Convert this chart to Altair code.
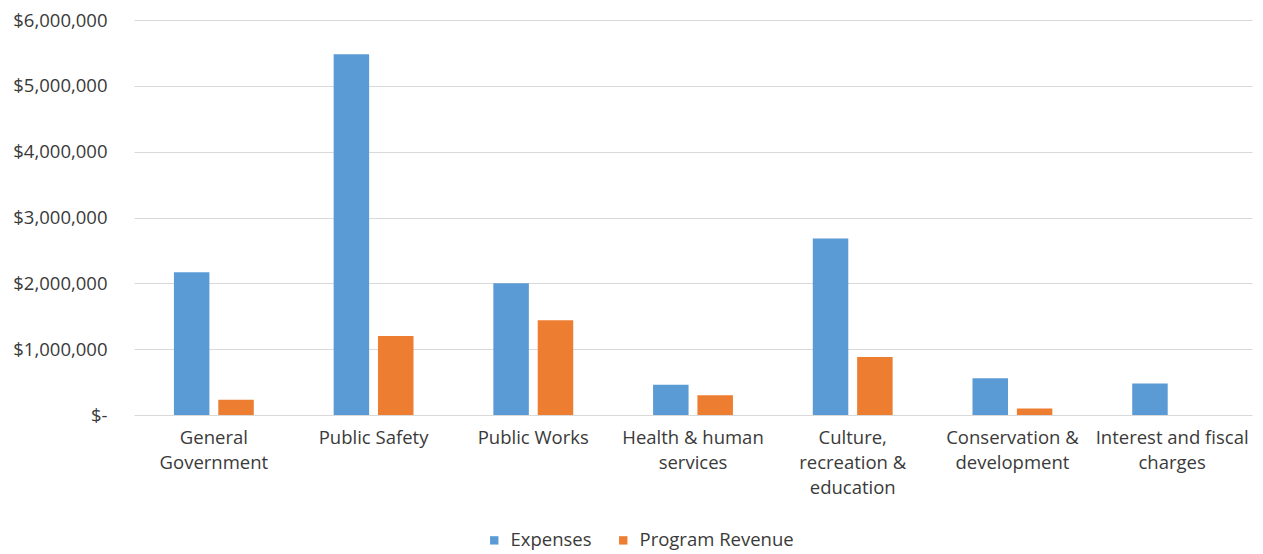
import altair as alt
import pandas as pd

categories = [
    "General\nGovernment",
    "Public Safety",
    "Public Works",
    "Health & human\nservices",
    "Culture,\nrecreation &\neducation",
    "Conservation &\ndevelopment",
    "Interest and fiscal\ncharges",
]
expenses = [2170000, 5480000, 2000000, 460000, 2680000, 560000, 480000]
program_revenue = [230000, 1200000, 1440000, 300000, 880000, 100000, 0]
series = ["Expenses", "Program Revenue"]
colors = ["#5B9BD5", "#ED7D31"]

rows = []
for c, e, r in zip(categories, expenses, program_revenue):
    rows.append({"category": c, "series": series[0], "value": e})
    rows.append({"category": c, "series": series[1], "value": r})
df = pd.DataFrame(rows)

FONT = "Open Sans"
TEXT = "#3a3a3a"
FS = 18.5

chart = (
    alt.Chart(df)
    .mark_bar()
    .encode(
        x=alt.X(
            "category:N",
            sort=categories,
            scale=alt.Scale(paddingInner=0.5, paddingOuter=0.25),
            axis=alt.Axis(
                title=None,
                labelAngle=0,
                labelExpr="split(datum.label, '\\n')",
                labelFontSize=FS,
                labelFont=FONT,
                labelColor=TEXT,
                labelLineHeight=25,
                labelPadding=13,
                labelBaseline="top",
                ticks=False,
                domain=False,
                grid=False,
                labelLimit=0,
            ),
        ),
        xOffset=alt.XOffset(
            "series:N",
            sort=series,
            scale=alt.Scale(paddingInner=0.2, paddingOuter=0),
        ),
        y=alt.Y(
            "value:Q",
            scale=alt.Scale(domain=[0, 6000000], nice=False),
            axis=alt.Axis(
                title=None,
                values=[0, 1000000, 2000000, 3000000, 4000000, 5000000, 6000000],
                labelExpr="datum.value == 0 ? '$-' : '$' + format(datum.value, ',')",
                labelFontSize=FS,
                labelFont=FONT,
                labelColor=TEXT,
                labelPadding=27,
                ticks=False,
                domain=False,
                gridColor="#d9d9d9",
                gridWidth=1,
            ),
        ),
        color=alt.Color(
            "series:N",
            sort=series,
            scale=alt.Scale(domain=series, range=colors),
            legend=alt.Legend(
                title=None,
                orient="none",
                legendX=351,
                legendY=511,
                direction="horizontal",
                symbolType="square",
                symbolSize=70,
                labelFontSize=FS,
                labelFont=FONT,
                labelColor=TEXT,
                labelOffset=7,
                columnPadding=22,
            ),
        ),
    )
    .properties(
        width=1118,
        height=395,
        background="white",
        padding={"left": 4, "top": 3, "right": 2, "bottom": 2},
    )
    .configure_view(stroke=None)
)

chart.save("out.html", embed_options={"renderer": "svg", "actions": False})
